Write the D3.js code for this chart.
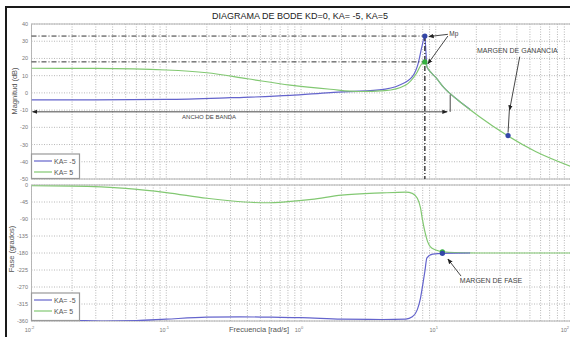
<!DOCTYPE html>
<html>
<head>
<meta charset="utf-8">
<script src="https://cdn.jsdelivr.net/npm/d3@7"></script>
<style>
	body { margin: 0; background: #fff; }
	svg { display: block; font-family: "Liberation Sans", Arial, sans-serif; }
</style>
</head>
<body>
<div id="chart"></div>
<script>
// --- data ---
var seriesNames = ["KA= -5", "KA= 5"];

var freqBlueMag = [0.01, 0.03, 0.1, 0.3, 0.83, 1.65, 3.8, 5.4, 6.7, 7.4, 7.9, 8.3, 8.45, 8.6, 9.1, 10, 11.5, 14.5, 18];
var magBlue     = [-4, -4, -3.8, -2.8, -1.5, 0.2, 1.7, 4.6, 9.4, 17, 27, 33, 24, 15.2, 12.3, 9, 3, -4, -9.6];

var freqGreenMag = [0.01, 0.03, 0.1, 0.2, 0.4, 0.83, 1.65, 2.7, 4.2, 6.0, 7.2, 7.9, 8.3, 8.6, 9.1, 10, 11.5, 14.5, 21, 34, 55, 100];
var magGreen     = [14.3, 14.2, 13.3, 11.7, 8.2, 4.5, 2.1, 0.8, 1.3, 4.6, 11.4, 17, 18, 15.2, 12.3, 9, 3, -4, -13.7, -24.8, -34, -42.6];

var freqBluePh = [0.01, 0.02, 0.035, 0.06, 0.1, 0.2, 0.35, 0.6, 1, 2, 4, 6, 6.7, 7.3, 7.7, 8.0, 8.3, 8.6, 9.5, 11.5, 18];
var phBlue     = [-357, -358, -360, -359, -355, -350, -349, -350, -351, -355, -356, -355, -349, -330, -300, -265, -229, -193, -183, -181, -180];

var freqGreenPh = [0.01, 0.02, 0.05, 0.1, 0.2, 0.38, 0.55, 0.8, 1.2, 2, 4, 6, 6.7, 7.3, 7.7, 8.0, 8.3, 8.7, 9.1, 10, 11.5, 14, 20, 100];
var phGreen     = [-2, -3, -9, -20, -35, -45, -47, -44, -38, -27, -21, -19, -22, -35, -60, -95, -123, -150, -163, -172, -177, -179, -180, -180];

var magTicks = [40, 30, 20, 10, 0, -10, -20, -30, -40, -50];
var phTicks = [0, -45, -90, -135, -180, -225, -270, -315, -360];
var freqDecades = [-2, -1, 0, 1, 2];

// marked points
var mpFreq = 8.3, mpBlue = 33, mpGreen = 18;
var gmFreq = 34.4, gmMag = -24.8;
var pmFreq = 11.2, pmGreen = -177, pmBlue = -181;
var bwFreq = 12.8, bwLevel = -11, bwTop = -1;

var width = 570, height = 337;
var colors = ["#6464cc", "#82c872"];
var dotColors = ["#3346a8", "#35b040"];

var svg = d3.select("#chart").append("svg")
	.attr("width", width)
	.attr("height", height);

var defs = svg.append("defs");
defs.append("marker")
	.attr("id", "arrow")
	.attr("viewBox", "0 0 10 10")
	.attr("refX", 9).attr("refY", 5)
	.attr("markerWidth", 6).attr("markerHeight", 6)
	.attr("orient", "auto-start-reverse")
	.append("path")
	.attr("d", "M0,1 L10,5 L0,9 z")
	.attr("fill", "#222");

// outer frame
svg.append("rect")
	.attr("x", 6).attr("y", 7)
	.attr("width", 640).attr("height", 400)
	.attr("fill", "none")
	.attr("stroke", "#1a1a1a")
	.attr("stroke-width", 2);

var x = d3.scaleLog().domain([0.01, 100]).range([31.5, 570.5]);
var yMag = d3.scaleLinear().domain([-50, 40]).range([179, 24]);
var yPh = d3.scaleLinear().domain([-360, 0]).range([321, 185]);

function drawPanel(y, ticks, id) {
	var g = svg.append("g");
	var r = y.range();
	g.append("clipPath").attr("id", id)
		.append("rect")
		.attr("x", x.range()[0]).attr("y", r[1])
		.attr("width", x.range()[1] - x.range()[0]).attr("height", r[0] - r[1]);

	g.append("rect")
		.attr("x", x.range()[0]).attr("y", r[1])
		.attr("width", x.range()[1] - x.range()[0]).attr("height", r[0] - r[1])
		.attr("fill", "#fff")
		.attr("stroke", "#b4b4b4");

	g.selectAll(".vgrid")
		.data(x.ticks())
		.enter().append("line")
		.attr("x1", function(d) { return x(d); })
		.attr("x2", function(d) { return x(d); })
		.attr("y1", r[1]).attr("y2", r[0])
		.attr("stroke", "#b8b8b8")
		.attr("stroke-dasharray", "1,1.5");

	g.selectAll(".hgrid")
		.data(ticks)
		.enter().append("line")
		.attr("x1", x.range()[0]).attr("x2", x.range()[1])
		.attr("y1", function(d) { return y(d); })
		.attr("y2", function(d) { return y(d); })
		.attr("stroke", "#b8b8b8")
		.attr("stroke-dasharray", "1,1.5");

	g.selectAll(".ylab")
		.data(ticks)
		.enter().append("text")
		.attr("x", 28)
		.attr("y", function(d) { return y(d) + 2; })
		.attr("text-anchor", "end")
		.attr("font-size", 5.5)
		.attr("fill", "#777")
		.text(function(d) { return d; });
	return g;
}

var magPanel = drawPanel(yMag, magTicks, "clipMag");
var phPanel = drawPanel(yPh, phTicks, "clipPh");

function drawLine(g, xs, ys, y, color, clip) {
	var pts = xs.map(function(f, i) { return [f, ys[i]]; });
	g.append("path")
		.datum(pts)
		.attr("clip-path", "url(#" + clip + ")")
		.attr("fill", "none")
		.attr("stroke", color)
		.attr("stroke-width", 1.2)
		.attr("d", d3.line()
			.x(function(d) { return x(d[0]); })
			.y(function(d) { return y(d[1]); })
			.curve(d3.curveMonotoneX));
}

drawLine(magPanel, freqBlueMag, magBlue, yMag, colors[0], "clipMag");
drawLine(magPanel, freqGreenMag, magGreen, yMag, colors[1], "clipMag");
drawLine(phPanel, freqGreenPh, phGreen, yPh, colors[1], "clipPh");
drawLine(phPanel, freqBluePh, phBlue, yPh, colors[0], "clipPh");

// x tick labels 10^n
var xl = svg.selectAll(".xlab")
	.data(freqDecades)
	.enter().append("text")
	.attr("x", function(d, i) { return i == freqDecades.length - 1 ? 569 : x(Math.pow(10, d)) - 2; })
	.attr("y", 332)
	.attr("text-anchor", function(d, i) { return i == freqDecades.length - 1 ? "end" : "middle"; })
	.attr("font-size", 5.5)
	.attr("fill", "#777");
xl.append("tspan").text("10");
xl.append("tspan")
	.attr("dy", -3)
	.attr("font-size", 4)
	.text(function(d) { return d; });

// titles
svg.append("text")
	.attr("x", 300).attr("y", 19)
	.attr("text-anchor", "middle")
	.attr("font-size", 9)
	.attr("fill", "#222")
	.text("DIAGRAMA DE BODE KD=0, KA= -5, KA=5");

svg.append("text")
	.attr("transform", "translate(17,91) rotate(-90)")
	.attr("text-anchor", "middle")
	.attr("font-size", 7.5)
	.attr("fill", "#555")
	.text("Magnitud (dB)");

svg.append("text")
	.attr("transform", "translate(14,249) rotate(-90)")
	.attr("text-anchor", "middle")
	.attr("font-size", 7.5)
	.attr("fill", "#555")
	.text("Fase (grados)");

svg.append("text")
	.attr("x", 259).attr("y", 332)
	.attr("text-anchor", "middle")
	.attr("font-size", 7.5)
	.attr("fill", "#555")
	.text("Frecuencia [rad/s]");

// Mp guide lines
var guide = svg.append("g")
	.attr("stroke", "#333")
	.attr("stroke-width", 1)
	.attr("fill", "none");
[mpBlue, mpGreen].forEach(function(v) {
	guide.append("line")
		.attr("x1", x.range()[0]).attr("x2", x(mpFreq))
		.attr("y1", yMag(v)).attr("y2", yMag(v))
		.attr("stroke-dasharray", "5,2,1,2");
});
guide.append("line")
	.attr("x1", x(mpFreq)).attr("x2", x(mpFreq))
	.attr("y1", yMag(mpBlue)).attr("y2", yMag.range()[0])
	.attr("stroke-width", 1.4)
	.attr("stroke-dasharray", "5,2,1,2");

// bandwidth arrow
var ann = svg.append("g")
	.attr("stroke", "#333")
	.attr("stroke-width", 0.9)
	.attr("fill", "none");
ann.append("line")
	.attr("x1", x(bwFreq) - 3).attr("x2", x.range()[0] + 1)
	.attr("y1", yMag(bwLevel)).attr("y2", yMag(bwLevel))
	.attr("marker-start", "url(#arrow)")
	.attr("marker-end", "url(#arrow)");
ann.append("line")
	.attr("x1", x(bwFreq)).attr("x2", x(bwFreq))
	.attr("y1", yMag(bwLevel)).attr("y2", yMag(bwTop));

// Mp arrows
ann.append("line")
	.attr("x1", x(12.3)).attr("y1", yMag(34))
	.attr("x2", x(mpFreq) + 4).attr("y2", yMag(mpBlue) + 0.5)
	.attr("marker-end", "url(#arrow)");
ann.append("line")
	.attr("x1", x(12.3)).attr("y1", yMag(33))
	.attr("x2", x(mpFreq) + 3).attr("y2", yMag(mpGreen) + 2)
	.attr("marker-end", "url(#arrow)");

// gain margin arrow
ann.append("line")
	.attr("x1", x(42)).attr("y1", yMag(21))
	.attr("x2", x(35.3)).attr("y2", yMag(-10))
	.attr("marker-end", "url(#arrow)");
ann.append("line")
	.attr("x1", x(35.3)).attr("y1", yMag(-8))
	.attr("x2", x(gmFreq)).attr("y2", yMag(gmMag) - 3);

// phase margin arrow
ann.append("line")
	.attr("x1", x(15.4)).attr("y1", yPh(-241))
	.attr("x2", x(12.3)).attr("y2", yPh(-196))
	.attr("marker-end", "url(#arrow)");

var labels = svg.append("g")
	.attr("font-size", 6.5)
	.attr("fill", "#444");
labels.append("text").attr("x", x(12.6)).attr("y", yMag(33)).text("Mp");
labels.append("text").attr("x", x(20.2)).attr("y", yMag(23)).attr("font-size", 7).text("MARGEN DE GANANCIA");
labels.append("text").attr("x", x(0.33)).attr("y", yMag(bwLevel) + 7.5).attr("text-anchor", "end").attr("font-size", 6).text("ANCHO DE BANDA");
labels.append("text").attr("x", x(15.1)).attr("y", yPh(-259)).attr("font-size", 7).text("MARGEN DE FASE");

// dots
var dots = [
	{ f: mpFreq, v: mpBlue, y: yMag, c: dotColors[0] },
	{ f: mpFreq, v: mpGreen, y: yMag, c: dotColors[1] },
	{ f: gmFreq, v: gmMag, y: yMag, c: dotColors[0] },
	{ f: pmFreq, v: pmGreen, y: yPh, c: dotColors[1] },
	{ f: pmFreq, v: pmBlue, y: yPh, c: dotColors[0] }
];
svg.selectAll(".dot")
	.data(dots)
	.enter().append("circle")
	.attr("cx", function(d) { return x(d.f); })
	.attr("cy", function(d) { return d.y(d.v); })
	.attr("r", 2.6)
	.attr("fill", function(d) { return d.c; });

// legends
function legend(yTop, h) {
	var g = svg.append("g");
	g.append("rect")
		.attr("x", 31.5).attr("y", yTop)
		.attr("width", 48).attr("height", h)
		.attr("fill", "#fff")
		.attr("stroke", "#999")
		.attr("stroke-width", 1.2);
	var item = g.selectAll(".item")
		.data(seriesNames)
		.enter().append("g")
		.attr("transform", function(d, i) { return "translate(0," + (yTop + 7 + i * 11) + ")"; });
	item.append("line")
		.attr("x1", 34).attr("x2", 52)
		.attr("stroke", function(d, i) { return colors[i]; })
		.attr("stroke-width", 1.2);
	item.append("text")
		.attr("x", 54).attr("y", 2.5)
		.attr("font-size", 7)
		.attr("fill", "#555")
		.text(function(d) { return d; });
}
legend(154, 24.5);
legend(293, 27.5);
</script>
</body>
</html>
